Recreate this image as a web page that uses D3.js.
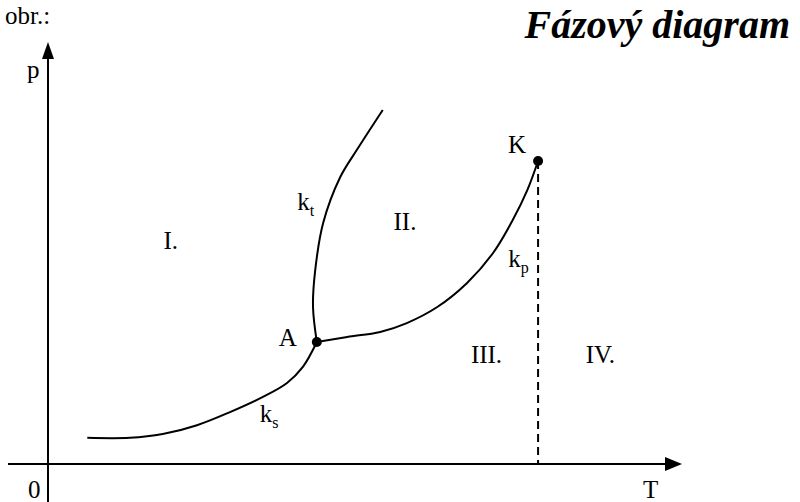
<!DOCTYPE html>
<html><head><meta charset="utf-8">
<script src="https://cdn.jsdelivr.net/npm/d3@7"></script>
<style>body{margin:0;background:#fff}svg{display:block}</style>
</head><body>
<script>
// Data (T, p) in arbitrary units
const curveKs = [[6.2,6.2],[12.9,6.2],[18.1,7.1],[23.5,9.2],[28.7,12.3],[33.9,15.9],[37.7,19.2],[40.2,23.0],[42.4,28.9]];
const curveKt = [[42.4,28.9],[41.8,37.2],[42.1,45.3],[43.4,57.1],[46.1,68.0],[48.7,74.4],[52.8,83.9]];
const curveKp = [[42.4,28.9],[47.2,30.1],[52.4,31.3],[56.6,33.4],[61.4,37.2],[66.1,42.9],[70.2,50.0],[73.3,57.8],[75.6,64.9],[77.3,71.8]];
const points = [{name:"A",T:42.4,p:28.9},{name:"K",T:77.3,p:71.8}];
const regions = [{name:"I.",T:18.2,p:51.0},{name:"II.",T:54.5,p:55.5},{name:"III.",T:66.7,p:24.0},{name:"IV.",T:84.8,p:24.0}];
const curveLabels = [{main:"k",sub:"t",T:39.3,p:60.2},{main:"k",sub:"p",T:72.6,p:46.7},{main:"k",sub:"s",T:33.4,p:10.0}];

const FF="'Liberation Serif','DejaVu Serif','Times New Roman',serif";
const W=800,H=502;
const svg=d3.select("body").append("svg").attr("width",W).attr("height",H);
const x=d3.scaleLinear().domain([0,100]).range([48,682]);
const y=d3.scaleLinear().domain([0,100]).range([464,42]);

// axes
svg.append("line").attr("x1",8).attr("x2",668).attr("y1",y(0)).attr("y2",y(0)).attr("stroke","#000").attr("stroke-width",2);
svg.append("path").attr("d",`M${x(100)},${y(0)} L${x(100)-17},${y(0)-7} L${x(100)-17},${y(0)+7} Z`).attr("fill","#000");
svg.append("line").attr("x1",x(0)).attr("x2",x(0)).attr("y1",H).attr("y2",58).attr("stroke","#000").attr("stroke-width",2);
svg.append("path").attr("d",`M${x(0)},${y(100)} L${x(0)-6},${y(100)+17} L${x(0)+6},${y(100)+17} Z`).attr("fill","#000");

const line=d3.line().x(d=>x(d[0])).y(d=>y(d[1])).curve(d3.curveCatmullRom.alpha(0.5));
[curveKs,curveKt,curveKp].forEach(c=>svg.append("path").attr("d",line(c)).attr("fill","none").attr("stroke","#000").attr("stroke-width",2));

// dashed critical isotherm
const K=points[1];
svg.append("line").attr("x1",x(K.T)).attr("x2",x(K.T)).attr("y1",y(K.p)).attr("y2",y(0)).attr("stroke","#000").attr("stroke-width",2).attr("stroke-dasharray","8,5");

svg.selectAll("circle.pt").data(points).enter().append("circle").attr("cx",d=>x(d.T)).attr("cy",d=>y(d.p)).attr("r",5).attr("fill","#000");

const fs=25;
function txt(xx,yy,s,size){return svg.append("text").attr("x",xx).attr("y",yy).attr("font-family",FF).attr("font-size",size||fs).attr("fill","#000").text(s);}
txt(x(points[0].T)-38,y(points[0].p)+4,"A");
txt(x(K.T)-30,y(K.p)-8,"K");
regions.forEach(d=>txt(x(d.T),y(d.p),d.name));
curveLabels.forEach(d=>{
  const t=svg.append("text").attr("x",x(d.T)).attr("y",y(d.p)).attr("font-family",FF).attr("font-size",fs);
  t.append("tspan").text(d.main);
  t.append("tspan").attr("dy",6).attr("font-size",16).text(d.sub);
});
txt(5,24,"obr.:");
txt(27,78,"p");
txt(28,498,"0");
txt(643,498,"T");
txt(790,38,"Fázový diagram",40).attr("text-anchor","end").attr("font-weight","bold").attr("font-style","italic");
</script>
</body></html>
